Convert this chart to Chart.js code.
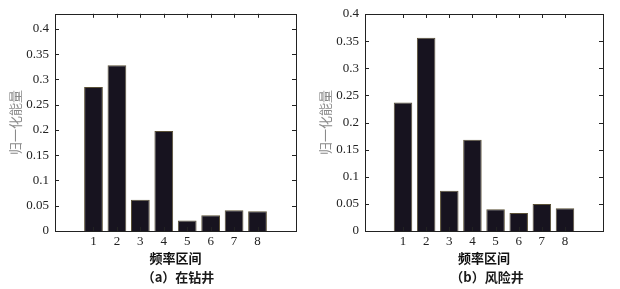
<!DOCTYPE html>
<html lang="zh">
<head>
<meta charset="UTF-8">
<title>归一化能量</title>
<script src="https://cdn.jsdelivr.net/npm/chart.js"></script>
<style>
  html, body { margin: 0; padding: 0; background: #fff; }
  #wrap { position: relative; width: 620px; height: 289px; }
  .panel { position: absolute; top: 0; width: 310px; height: 289px; }
  .caption {
    position: absolute; top: 268px; width: 120px; margin-left: -60px;
    text-align: center; font: bold 13px/18px "Noto Sans CJK SC", sans-serif; color: #1a1a1a;
  }
</style>
</head>
<body>
<div id="wrap">
  <div class="panel" style="left:0"><canvas id="chartA" width="310" height="289"></canvas></div>
  <div class="panel" style="left:310px"><canvas id="chartB" width="310" height="289"></canvas></div>
  <div class="caption" style="left:178px">（a）在钻井</div>
  <div class="caption" style="left:487px">（b）风险井</div>
</div>
<script>
// frequency bins 1..8
const bins = [1, 2, 3, 4, 5, 6, 7, 8];
const drillingEnergy = [0.285, 0.328, 0.062, 0.198, 0.021, 0.031, 0.041, 0.039];
const riskEnergy = [0.237, 0.356, 0.074, 0.168, 0.040, 0.033, 0.050, 0.042];
const yTicks = [0, 0.05, 0.1, 0.15, 0.2, 0.25, 0.3, 0.35, 0.4];

// matlab style box with inward ticks on all four sides
const boxTicks = {
    id: 'boxTicks',
    afterDraw(chart) {
        const ctx = chart.ctx;
        const a = chart.chartArea;
        const xs = chart.scales.x, ys = chart.scales.y;
        const len = 4;
        ctx.save();
        ctx.strokeStyle = '#222';
        ctx.lineWidth = 1;
        ctx.strokeRect(Math.round(a.left) + 0.5, Math.round(a.top) + 0.5,
            Math.round(a.right - a.left), Math.round(a.bottom - a.top));
        ctx.beginPath();
        bins.forEach(b => {
            const px = Math.round(xs.getPixelForValue(b)) + 0.5;
            ctx.moveTo(px, a.bottom); ctx.lineTo(px, a.bottom - len);
            ctx.moveTo(px, a.top); ctx.lineTo(px, a.top + len);
        });
        yTicks.forEach(v => {
            const py = Math.round(ys.getPixelForValue(v)) + 0.5;
            ctx.moveTo(a.left, py); ctx.lineTo(a.left + len, py);
            ctx.moveTo(a.right, py); ctx.lineTo(a.right - len, py);
        });
        ctx.stroke();
        ctx.restore();
    }
};

function makeChart(id, values, yMax, padTop, padRight) {
    const ctx = document.getElementById(id).getContext('2d');
    return new Chart(ctx, {
        type: 'bar',
        data: {
            datasets: [{
                data: bins.map((b, i) => ({ x: b, y: values[i] })),
                backgroundColor: '#17131f',
                borderColor: '#5a5036',
                borderWidth: 1,
                categoryPercentage: 1,
                barPercentage: 0.8
            }]
        },
        options: {
            responsive: false,
            animation: false,
            layout: { padding: { top: padTop, right: padRight, left: 0, bottom: 0 } },
            plugins: {
                legend: { display: false },
                tooltip: { enabled: false }
            },
            scales: {
                x: {
                    type: 'linear',
                    min: 0,
                    max: 9,
                    grid: { display: false, drawTicks: false },
                    border: { display: false },
                    afterBuildTicks: s => { s.ticks = bins.map(v => ({ value: v })); },
                    afterFit: s => { s.height = 58; },
                    ticks: {
                        color: '#222',
                        padding: 3,
                        maxRotation: 0,
                        autoSkip: false,
                        font: { family: '"Liberation Serif", serif', size: 13 },
                        callback: v => String(v)
                    },
                    title: {
                        display: true,
                        text: '频率区间',
                        color: '#111',
                        font: { family: '"Noto Sans CJK SC", sans-serif', size: 13, weight: 'bold' },
                        padding: { top: 2, bottom: 23 }
                    }
                },
                y: {
                    min: 0,
                    max: yMax,
                    grid: { display: false, drawTicks: false },
                    border: { display: false },
                    afterBuildTicks: s => { s.ticks = yTicks.map(v => ({ value: v })); },
                    afterFit: s => { s.width = 55; },
                    ticks: {
                        color: '#222',
                        padding: 6,
                        font: { family: '"Liberation Serif", serif', size: 13 },
                        callback: v => String(v)
                    },
                    title: {
                        display: true,
                        text: '归一化能量',
                        color: '#8a8a8a',
                        font: { family: '"Noto Sans CJK SC", sans-serif', size: 13 },
                        padding: { top: 7, bottom: 0 }
                    }
                }
            }
        },
        plugins: [boxTicks]
    });
}

makeChart('chartA', drillingEnergy, 0.43, 7, 14);
makeChart('chartB', riskEnergy, 0.4, 14, 17);
</script>
</body>
</html>
